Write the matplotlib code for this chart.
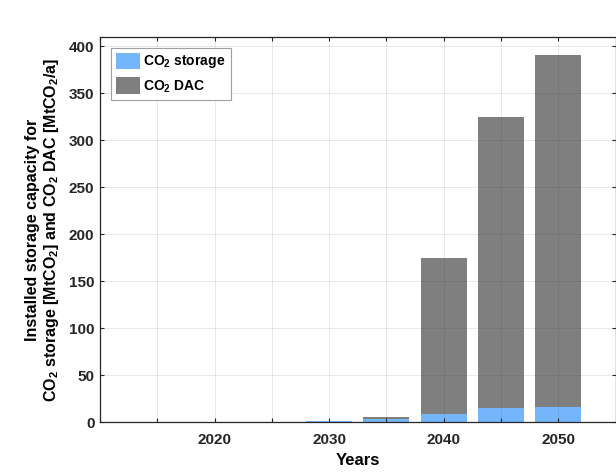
from matplotlib import pyplot as plt
import numpy as np

plt.rcParams.update({
    "font.family": ['Liberation Sans', 'DejaVu Sans'],
    "font.weight": 'bold',
    "font.size": 11,
    "mathtext.fontset": 'custom',
    "mathtext.rm": 'Liberation Sans:bold',
    "mathtext.bf": 'Liberation Sans:bold',
    "mathtext.default": 'bf',
    "axes.linewidth": 0.9,
    "axes.edgecolor": '#262626',
    "xtick.direction": 'in',
    "ytick.direction": 'in',
    "xtick.top": True,
    "ytick.right": True,
    "xtick.color": '#262626',
    "ytick.color": '#262626',
    "xtick.labelcolor": '#262626',
    "ytick.labelcolor": '#262626',
})

# данные
years = [2030, 2035, 2040, 2045, 2050]
co2_storage = [1.2, 3.0, 8.7, 15.0, 16.5]
co2_dac = [0.0, 2.0, 166.0, 310.0, 374.5]

xticks = [2010, 2015, 2020, 2025, 2030, 2035, 2040, 2045, 2050]
xticklabels = ['', '', '2020', '', '2030', '', '2040', '', '2050']
yticks = [0, 50, 100, 150, 200, 250, 300, 350, 400]

blue = '#74b5fc'
grey = '#7f7f7f'

fig = plt.figure(figsize=(6.16, 4.73), dpi=100)
ax = fig.add_axes([100 / 616, 51 / 473, 515.5 / 616, 385 / 473])

ax.bar(years, co2_storage, width=4, color=blue, label=r'CO$_2$ storage', zorder=1)
ax.bar(years, co2_dac, width=4, bottom=co2_storage, color=grey, label=r'CO$_2$ DAC', zorder=1)

ax.set_xlim(2010, 2055)
ax.set_ylim(0, 410)
ax.set_xticks(xticks)
ax.set_xticklabels(xticklabels)
ax.set_yticks(yticks)
ax.tick_params(length=3, width=0.8, labelsize=11, pad=8)
ax.tick_params(axis='y', pad=4)

ax.set_axisbelow(False)
ax.grid(True, color='#262626', alpha=0.1, linewidth=0.7)

ax.set_xlabel('Years', fontsize=12, fontweight='bold', labelpad=4)
ax.set_ylabel('Installed storage capacity for\n'
              r'CO$_2$ storage [MtCO$_2$] and CO$_2$ DAC [MtCO$_2$/a]',
              fontsize=11.5, fontweight='bold', labelpad=6, linespacing=1.15)

leg = ax.legend(loc='upper left', bbox_to_anchor=(0.021, 0.972), borderaxespad=0,
                fancybox=False, framealpha=1, edgecolor='#a0a0a0', fontsize=10,
                handlelength=1.75, handleheight=1.45, borderpad=0.35, labelspacing=0.5,
                handletextpad=0.25)
leg.get_frame().set_linewidth(0.8)

fig.savefig('out.png', dpi=100)
